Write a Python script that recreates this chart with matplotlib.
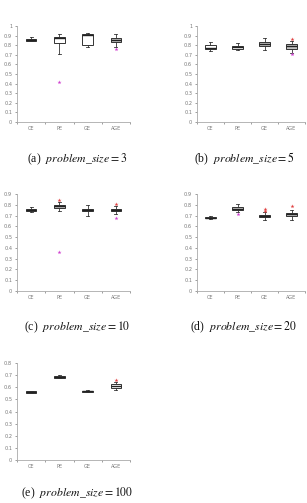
import matplotlib
matplotlib.use("Agg")
import matplotlib.pyplot as plt

plt.rcParams['mathtext.fontset'] = 'stix'
plt.rcParams['font.family'] = ['Liberation Serif', 'DejaVu Serif']

categories = ["CE", "PE", "GE", "AGE"]
captions = ["(a)", "(b)", "(c)", "(d)", "(e)"]
problem_sizes = [3, 5, 10, 20, 100]
ymax = [1.0, 1.0, 0.9, 0.9, 0.8]

# per panel: [whislo, q1, med, q3, whishi] for CE, PE, GE, AGE
stats_a = [[0.84, 0.845, 0.855, 0.865, 0.89],
           [0.71, 0.82, 0.875, 0.885, 0.915],
           [0.785, 0.80, 0.91, 0.915, 0.93],
           [0.78, 0.83, 0.855, 0.875, 0.915]]
stats_b = [[0.74, 0.76, 0.775, 0.80, 0.83],
           [0.745, 0.765, 0.78, 0.795, 0.825],
           [0.745, 0.79, 0.815, 0.835, 0.88],
           [0.72, 0.765, 0.79, 0.81, 0.84]]
stats_c = [[0.73, 0.74, 0.75, 0.76, 0.78],
           [0.74, 0.77, 0.785, 0.80, 0.83],
           [0.70, 0.745, 0.755, 0.765, 0.795],
           [0.71, 0.74, 0.75, 0.765, 0.79]]
stats_d = [[0.665, 0.675, 0.68, 0.69, 0.695],
           [0.73, 0.75, 0.765, 0.78, 0.81],
           [0.66, 0.685, 0.695, 0.705, 0.73],
           [0.66, 0.695, 0.71, 0.725, 0.75]]
stats_e = [[0.553, 0.555, 0.56, 0.565, 0.567],
           [0.675, 0.68, 0.688, 0.695, 0.705],
           [0.56, 0.563, 0.567, 0.573, 0.578],
           [0.575, 0.595, 0.61, 0.625, 0.64]]
all_stats = [stats_a, stats_b, stats_c, stats_d, stats_e]

# box fill: True = grey
grey_a = [True, False, False, True]
grey_b = [False, False, True, True]
grey_c = [True, True, True, True]
grey_d = [False, True, True, True]
grey_e = [False, False, False, False]
all_grey = [grey_a, grey_b, grey_c, grey_d, grey_e]

# outliers: (category index, value)
red_a = []
mag_a = [(2, 0.42), (4, 0.765)]
red_b = [(4, 0.865)]
mag_b = [(4, 0.71)]
red_c = [(2, 0.845), (4, 0.81)]
mag_c = [(2, 0.36), (4, 0.68)]
red_d = [(3, 0.76), (3, 0.745), (4, 0.79)]
mag_d = [(2, 0.71)]
red_e = [(4, 0.66)]
mag_e = []
all_red = [red_a, red_b, red_c, red_d, red_e]
all_mag = [mag_a, mag_b, mag_c, mag_d, mag_e]

W, H = 307, 503
fig = plt.figure(figsize=(W / 100, H / 100), dpi=100)

# pixel boxes: left, right, top, bottom
rects = [(17, 130, 26, 122), (197, 305, 26, 122),
         (17, 130, 194, 291), (197, 305, 194, 291),
         (17, 130, 363, 460)]
cap_pos = [(77, 159), (244, 159), (77, 327), (244, 327), (77, 493)]

gc = "#777777"
for i in range(5):
    l, r, t, b = rects[i]
    ax = fig.add_axes([l / W, 1 - b / H, (r - l) / W, (b - t) / H])
    bstats = []
    for j, s in enumerate(all_stats[i]):
        bstats.append(dict(whislo=s[0], q1=s[1], med=s[2], q3=s[3], whishi=s[4],
                           fliers=[], label=categories[j]))
    bp = ax.bxp(bstats, positions=[1, 2, 3, 4], widths=0.38, showfliers=False,
                patch_artist=True,
                boxprops=dict(edgecolor="#333333", linewidth=0.7),
                medianprops=dict(color="#222222", linewidth=1.0),
                whiskerprops=dict(color="#333333", linewidth=0.6),
                capprops=dict(color="#333333", linewidth=0.6),
                capwidths=0.1)
    for patch, g in zip(bp['boxes'], all_grey[i]):
        patch.set_facecolor("#c4c4c4" if g else "white")
    if all_red[i]:
        xs, ys = zip(*all_red[i])
        ax.plot(xs, ys, linestyle='none', marker='*', color="#e04040",
                markersize=3, markeredgewidth=0)
    if all_mag[i]:
        xs, ys = zip(*all_mag[i])
        ax.plot(xs, ys, linestyle='none', marker='*', color="#d040d0",
                markersize=3, markeredgewidth=0)
    ax.set_xlim(0.5, 4.5)
    ax.set_ylim(0, ymax[i])
    n = int(round(ymax[i] * 10))
    ax.set_yticks([k / 10 for k in range(n + 1)])
    ax.set_yticklabels(["0" if k == 0 else ("1" if k == 10 else f"0.{k}") for k in range(n + 1)],
                       fontfamily="DejaVu Sans")
    ax.set_xticks([1, 2, 3, 4])
    ax.set_xticklabels(categories, fontfamily="DejaVu Sans")
    ax.set_xticks([0.5, 1.5, 2.5, 3.5, 4.5], minor=True)
    ax.tick_params(axis='both', which='major', labelsize=3.6, colors=gc, length=1.5,
                   width=0.5, pad=2)
    ax.tick_params(axis='x', which='major', length=0, pad=3)
    ax.tick_params(axis='x', which='minor', length=1.5, width=0.5, colors=gc)
    for sp in ['top', 'right']:
        ax.spines[sp].set_visible(False)
    for sp in ['left', 'bottom']:
        ax.spines[sp].set_color("#aaaaaa")
        ax.spines[sp].set_linewidth(0.6)
    ax.patch.set_alpha(0)
    cx, cy = cap_pos[i]
    fig.text(cx / W, 1 - cy / H,
             captions[i] + r"  $\mathit{problem\_size} = " + str(problem_sizes[i]) + "$",
             ha='center', va='center', fontsize=8.5, color="#111111")

fig.savefig("out.png", dpi=100)
